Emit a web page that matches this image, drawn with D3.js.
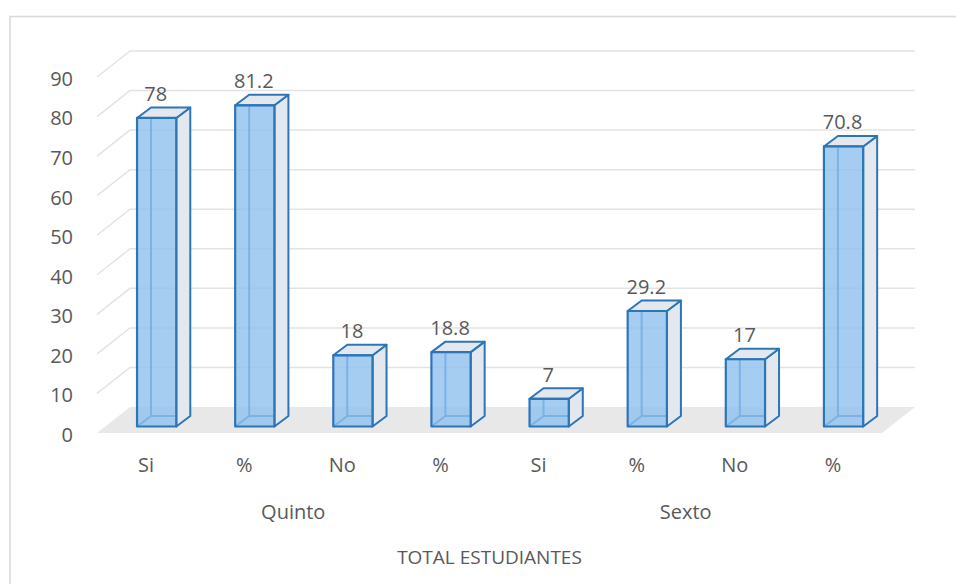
<!DOCTYPE html>
<html>
<head>
<meta charset="utf-8">
<script src="https://cdn.jsdelivr.net/npm/d3@7"></script>
<style>
  body { margin: 0; background: #fff; }
  svg text { font-family: "Open Sans", sans-serif; fill: #595959; }
</style>
</head>
<body>
<svg id="chart" width="956" height="584"></svg>
<script>
// données
var categories = ["Si", "%", "No", "%", "Si", "%", "No", "%"];
var groupes = ["Quinto", "Sexto"];
var valeurs = [78, 81.2, 18, 18.8, 7, 29.2, 17, 70.8];
var titreAxe = "TOTAL ESTUDIANTES";

var svg = d3.select("#chart");

// cadre du graphique
svg.append("rect")
    .attr("x", 10).attr("y", 16.5)
    .attr("width", 1000).attr("height", 700)
    .attr("fill", "#fff")
    .attr("stroke", "#d9d9d9").attr("stroke-width", 1.5);

var x = d3.scaleBand()
    .domain(d3.range(categories.length))
    .range([97, 882])
    .paddingInner(0.6)
    .paddingOuter(0.3);

var y = d3.scaleLinear()
    .domain([0, 90])
    .range([433, 77]);

// profondeur (fond du graphe)
var mur = {dx: 33, dy: -26};
// faces avant / arrière des barres
var avant = {dx: 10.6, dy: -6.5},
    arriere = {dx: 24.6, dy: -17};

var pt = function(px, py, o) { return [px + o.dx, py + o.dy]; };
var poly = function(pts) { return pts.map(function(p) { return p.join(","); }).join(" "); };

var x0 = x.range()[0], x1 = x.range()[1];

// sol
svg.append("polygon")
    .attr("points", poly([[x0, y(0)], [x1, y(0)], pt(x1, y(0), mur), pt(x0, y(0), mur)]))
    .attr("fill", "#e8e8e8");

// grille
var ticks = y.ticks(9);
svg.append("g").selectAll("polyline")
    .data(ticks.filter(function(d) { return d > 0; }))
    .enter().append("polyline")
    .attr("points", function(d) {
        return poly([[x0, y(d)], pt(x0, y(d), mur), pt(x1, y(d), mur)]);
    })
    .attr("fill", "none")
    .attr("stroke", "#e3e3e3")
    .attr("stroke-width", 1.5);

// axe y
var axeY = svg.append("g")
    .attr("transform", "translate(" + x0 + ",2)")
    .call(d3.axisLeft(y).tickValues(ticks).tickSize(0).tickPadding(24));
axeY.select(".domain").remove();
axeY.selectAll("text").style("font-size", "20px").style("font-family", "Open Sans").attr("fill", "#595959");

// axe x
var axeX = svg.append("g")
    .attr("transform", "translate(0," + y(0) + ")")
    .call(d3.axisBottom(x).tickFormat(function(i) { return categories[i]; }).tickSize(0).tickPadding(25));
axeX.select(".domain").remove();
axeX.selectAll("text").style("font-size", "20px").style("font-family", "Open Sans").attr("fill", "#595959");

// groupes
var step = x.step();
svg.append("g").selectAll("text")
    .data(groupes)
    .enter().append("text")
    .attr("x", function(d, i) { return x0 + (i * 4 + 2) * step; })
    .attr("y", 519)
    .attr("text-anchor", "middle")
    .style("font-size", "20px")
    .text(function(d) { return d; });

svg.append("text")
    .attr("x", (x0 + x1) / 2)
    .attr("y", 564)
    .attr("text-anchor", "middle")
    .style("font-size", "19px")
    .text(titreAxe);

// barres 3D
var bleu = "#2e75b6";
var barres = svg.append("g").selectAll("g")
    .data(valeurs)
    .enter().append("g");

barres.each(function(v, i) {
    var g = d3.select(this);
    var l = x(i), r = x(i) + x.bandwidth(), b = y(0), t = y(v);
    var fbl = pt(l, b, avant), fbr = pt(r, b, avant), ftl = pt(l, t, avant), ftr = pt(r, t, avant);
    var bbl = pt(l, b, arriere), bbr = pt(r, b, arriere), btl = pt(l, t, arriere), btr = pt(r, t, arriere);

    // arêtes cachées
    g.append("polyline")
        .attr("points", poly([btl, bbl, bbr]))
        .attr("fill", "none").attr("stroke", bleu).attr("stroke-width", 2);
    g.append("line")
        .attr("x1", fbl[0]).attr("y1", fbl[1]).attr("x2", bbl[0]).attr("y2", bbl[1])
        .attr("stroke", bleu).attr("stroke-width", 2);
    // face droite
    g.append("polygon")
        .attr("points", poly([fbr, bbr, btr, ftr]))
        .attr("fill", "#e3e8ee").attr("stroke", bleu).attr("stroke-width", 2)
        .attr("stroke-linejoin", "round");
    // dessus
    g.append("polygon")
        .attr("points", poly([ftl, ftr, btr, btl]))
        .attr("fill", "#e3e8ee").attr("stroke", bleu).attr("stroke-width", 2)
        .attr("stroke-linejoin", "round");
    // face avant
    g.append("polygon")
        .attr("points", poly([fbl, fbr, ftr, ftl]))
        .attr("fill", "#8fc0ef").attr("fill-opacity", 0.8)
        .attr("stroke", bleu).attr("stroke-width", 2.2)
        .attr("stroke-linejoin", "round");
    // étiquette
    g.append("text")
        .attr("x", (fbl[0] + fbr[0]) / 2 - 1)
        .attr("y", btl[1] - 6.5)
        .attr("text-anchor", "middle")
        .style("font-size", "20px")
        .text(v);
});
</script>
</body>
</html>
